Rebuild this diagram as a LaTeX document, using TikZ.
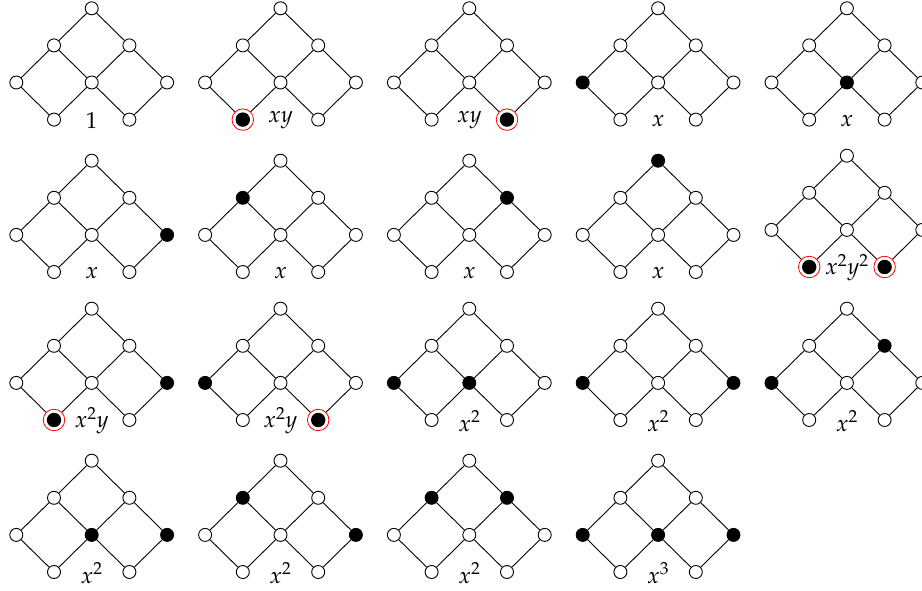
\documentclass[tikz,border=0pt]{standalone}
\usepackage{mathpazo}
\makeatletter
\newcommand\hh{37.7}
\newcommand\vv{37.1}
\newcommand\vnode[5]{%
  \tikzset{cur/.style={vtx}}%
  \in@{#2}{#4}\ifin@\tikzset{cur/.style={fillv}}\fi
  \in@{#2}{#5}\ifin@\tikzset{cur/.style={ringv}}\fi
  \node[cur] (#1#2) at #3 {};%
}
\newcommand\lat[6]{%
  \begin{scope}[shift={(#2,#3)}]
    \vnode{#1}{T}{(0,0)}{#4}{#5}
    \vnode{#1}{P}{(-\hh,\vv)}{#4}{#5}
    \vnode{#1}{Q}{(\hh,\vv)}{#4}{#5}
    \vnode{#1}{A}{(-2*\hh,2*\vv)}{#4}{#5}
    \vnode{#1}{M}{(0,2*\vv)}{#4}{#5}
    \vnode{#1}{B}{(2*\hh,2*\vv)}{#4}{#5}
    \vnode{#1}{C}{(-\hh,3*\vv)}{#4}{#5}
    \vnode{#1}{D}{(\hh,3*\vv)}{#4}{#5}
    \draw[edge] (#1T) -- (#1P) (#1T) -- (#1Q) (#1P) -- (#1A) (#1P) -- (#1M)
      (#1Q) -- (#1M) (#1Q) -- (#1B) (#1A) -- (#1C) (#1M) -- (#1C)
      (#1M) -- (#1D) (#1B) -- (#1D);
    \node[lab] (#1lab) at (0,3*\vv+1) {#6};
  \end{scope}}
\makeatother
\tikzset{
  vtx/.style={circle, draw=black, fill=white, line width=0.9pt, minimum size=13pt, inner sep=0pt},
  fillv/.style={vtx, fill=black},
  ringv/.style={circle, draw=red, line width=0.8pt, fill=white, minimum size=21.5pt, inner sep=0pt,
    path picture={\fill[black] (path picture bounding box.center) circle[radius=7.2pt];}},
  edge/.style={line width=0.9pt, draw=black},
  lab/.style={inner sep=0pt, font=\fontsize{23}{23}\selectfont},
}
\begin{document}
\begin{tikzpicture}[x=1pt, y=-1pt]
\useasboundingbox (0,0) rectangle (922,591);
\begin{scope}
\clip (0,0) rectangle (922,591);
% row 1
\lat{pa}{91.7}{8.3}{}{}{$1$}
\lat{pb}{280.5}{8.3}{}{C}{$xy$}
\lat{pc}{469.3}{8.3}{}{D}{$xy$}
\lat{pd}{658.1}{8.3}{A}{}{$x$}
\lat{pe}{846.9}{8.3}{M}{}{$x$}
% row 2
\lat{pf}{91.7}{160.7}{B}{}{$x$}
\lat{pg}{280.5}{160.7}{P}{}{$x$}
\lat{ph}{469.3}{160.7}{Q}{}{$x$}
\lat{pi}{658.1}{160.7}{T}{}{$x$}
\lat{pj}{846.9}{155.7}{}{CD}{$x^2y^2$}
% row 3
\lat{pk}{91.7}{308.7}{B}{C}{$x^2y$}
\lat{pl}{280.5}{308.7}{A}{D}{$x^2y$}
\lat{pm}{469.3}{308.7}{AM}{}{$x^2$}
\lat{pn}{658.1}{308.7}{AB}{}{$x^2$}
\lat{po}{846.9}{308.7}{AQ}{}{$x^2$}
% row 4
\lat{pp}{91.7}{460.7}{MB}{}{$x^2$}
\lat{pq}{280.5}{460.7}{PB}{}{$x^2$}
\lat{pr}{469.3}{460.7}{PQ}{}{$x^2$}
\lat{ps}{658.1}{460.7}{AMB}{}{$x^3$}
\end{scope}
\end{tikzpicture}
\end{document}
